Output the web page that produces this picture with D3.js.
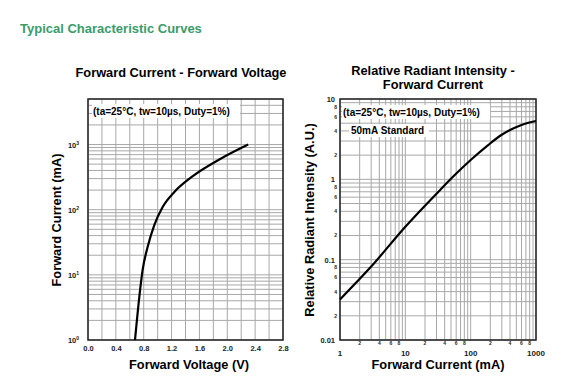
<!DOCTYPE html>
<html>
<head>
<meta charset="utf-8">
<script src="https://cdn.jsdelivr.net/npm/d3@7.9.0/dist/d3.min.js"></script>
<style>
  body { margin: 0; background: #fff; }
  svg text { font-family: "Liberation Sans", Arial, sans-serif; font-weight: bold; }
</style>
</head>
<body>
<svg id="chart" width="582" height="378"></svg>
<script>
// Forward current vs forward voltage (left chart)
const ivVoltage = [0.675, 0.737, 0.785, 0.857, 0.952, 1.072, 1.24, 1.50, 1.885, 2.30];
const ivCurrent = [1, 4.6, 12, 27, 58, 110, 187, 324, 589, 1000];
const vTicks = [0.0, 0.4, 0.8, 1.2, 1.6, 2.0, 2.4, 2.8];
const iDecades = [0, 1, 2, 3];

// Relative radiant intensity vs forward current (right chart)
const riCurrent = [1, 3, 10, 32, 57, 100, 185, 295, 600, 1000];
const riValue = [0.032, 0.082, 0.257, 0.70, 1.13, 1.74, 2.67, 3.56, 4.75, 5.32];
const riMajorY = ["0.01", "0.1", "1", "10"];
const riMinorLabels = [2, 4, 6, 8];
const fcMajorX = ["1", "10", "100", "1000"];

const svg = d3.select("#chart");
const gridColor = "#a8a8a8";

svg.append("text")
  .attr("x", 20).attr("y", 33)
  .attr("fill", "#3a9b6a")
  .attr("font-size", 13)
  .text("Typical Characteristic Curves");

// ---------- left chart ----------
const x1 = d3.scaleLinear().domain([0, 2.8]).range([88, 283]);
const y1 = d3.scaleLog().domain([1, 5000]).range([340, 99]);
const left = svg.append("g");

const vGrid = d3.range(0, 2.81, 0.2);
left.selectAll(".vg").data(vGrid).enter().append("line")
  .attr("x1", (d) => x1(d)).attr("x2", (d) => x1(d))
  .attr("y1", 99).attr("y2", 340)
  .attr("stroke", gridColor).attr("stroke-width", 1);

const hGrid1 = [];
iDecades.forEach((k) => {
  for (let m = 1; m <= 9; m++) {
    const v = m * Math.pow(10, k);
    if (v <= 5000) hGrid1.push(v);
  }
});
left.selectAll(".hg").data(hGrid1).enter().append("line")
  .attr("x1", 88).attr("x2", 283)
  .attr("y1", (d) => y1(d)).attr("y2", (d) => y1(d))
  .attr("stroke", gridColor).attr("stroke-width", 1);

left.append("rect")
  .attr("x", 88).attr("y", 99).attr("width", 195).attr("height", 241)
  .attr("fill", "none").attr("stroke", "#222").attr("stroke-width", 1.5);

// annotation
left.append("rect").attr("x", 92).attr("y", 104).attr("width", 148).attr("height", 14).attr("fill", "#fff");
left.append("text").attr("x", 93).attr("y", 115).attr("font-size", 10).text("(ta=25°C, tw=10µs, Duty=1%)");

// curve
const ivLine = d3.line()
  .x((d) => x1(d[0])).y((d) => y1(d[1]))
  .curve(d3.curveMonotoneX);
left.append("path")
  .datum(d3.zip(ivVoltage, ivCurrent))
  .attr("d", ivLine)
  .attr("fill", "none").attr("stroke", "#000").attr("stroke-width", 2.2);

// x axis labels
const xAxis1 = d3.axisBottom(x1).tickValues(vTicks).tickSize(0).tickFormat(d3.format(".1f"));
left.append("g").attr("transform", "translate(0,343)").call(xAxis1)
  .call((g) => g.select(".domain").remove())
  .selectAll("text").attr("font-size", 7.5).attr("fill", "#222")
  .attr("font-family", "Liberation Sans, Arial, sans-serif");

// y axis labels 10^k
const yl = left.selectAll(".yl").data(iDecades).enter().append("text")
  .attr("x", 79).attr("y", (d) => y1(Math.pow(10, d)) + 3)
  .attr("text-anchor", "end").attr("font-size", 7.5).attr("fill", "#222");
yl.append("tspan").text("10");
yl.append("tspan").attr("dy", -3).attr("font-size", 5).text((d) => d);

left.append("text").attr("x", 181).attr("y", 77).attr("text-anchor", "middle")
  .attr("font-size", 12.8).text("Forward Current - Forward Voltage");
left.append("text").attr("x", 189).attr("y", 369).attr("text-anchor", "middle")
  .attr("font-size", 12.8).text("Forward Voltage (V)");
left.append("text").attr("transform", "translate(61,220) rotate(-90)").attr("text-anchor", "middle")
  .attr("font-size", 12.8).text("Forward Current (mA)");

// ---------- right chart ----------
const x2 = d3.scaleLog().domain([1, 1000]).range([340, 536]);
const y2 = d3.scaleLog().domain([0.01, 10]).range([340, 99]);
const right = svg.append("g");

const xGrid2 = [];
[0, 1, 2].forEach((k) => { for (let m = 1; m <= 9; m++) xGrid2.push(m * Math.pow(10, k)); });
xGrid2.push(1000);
const yGrid2 = [];
[-2, -1, 0].forEach((k) => { for (let m = 1; m <= 9; m++) yGrid2.push(m * Math.pow(10, k)); });
yGrid2.push(10);

right.selectAll(".vg").data(xGrid2).enter().append("line")
  .attr("x1", (d) => x2(d)).attr("x2", (d) => x2(d))
  .attr("y1", 99).attr("y2", 340)
  .attr("stroke", gridColor).attr("stroke-width", 1);
right.selectAll(".hg").data(yGrid2).enter().append("line")
  .attr("x1", 340).attr("x2", 536)
  .attr("y1", (d) => y2(d)).attr("y2", (d) => y2(d))
  .attr("stroke", gridColor).attr("stroke-width", 1);

right.append("rect")
  .attr("x", 340).attr("y", 99).attr("width", 196).attr("height", 241)
  .attr("fill", "none").attr("stroke", "#222").attr("stroke-width", 1.5);

right.append("rect").attr("x", 342).attr("y", 105).attr("width", 148).attr("height", 14).attr("fill", "#fff");
right.append("text").attr("x", 343).attr("y", 116).attr("font-size", 10).text("(ta=25°C, tw=10µs, Duty=1%)");
right.append("rect").attr("x", 349).attr("y", 124).attr("width", 80).attr("height", 13).attr("fill", "#fff");
right.append("text").attr("x", 351).attr("y", 134).attr("font-size", 10).text("50mA Standard");

const riLine = d3.line()
  .x((d) => x2(d[0])).y((d) => y2(d[1]))
  .curve(d3.curveMonotoneX);
right.append("path")
  .datum(d3.zip(riCurrent, riValue))
  .attr("d", riLine)
  .attr("fill", "none").attr("stroke", "#000").attr("stroke-width", 2.2);

// major labels
right.selectAll(".ymaj").data(riMajorY).enter().append("text")
  .attr("x", 335).attr("y", (d) => y2(+d) + 3)
  .attr("text-anchor", "end").attr("font-size", 7.5).attr("fill", "#222").text((d) => d);
right.selectAll(".xmaj").data(fcMajorX).enter().append("text")
  .attr("x", (d) => x2(+d)).attr("y", 355.5)
  .attr("text-anchor", "middle").attr("font-size", 8).attr("fill", "#222").text((d) => d);

// minor labels
const yMinor = [];
[-2, -1, 0].forEach((k) => riMinorLabels.forEach((m) => yMinor.push({ m, v: m * Math.pow(10, k) })));
right.selectAll(".ymin").data(yMinor).enter().append("text")
  .attr("x", 337).attr("y", (d) => y2(d.v) + 2)
  .attr("text-anchor", "end").attr("font-size", 5).attr("fill", "#222").text((d) => d.m);
const xMinor = [];
[0, 1, 2].forEach((k) => riMinorLabels.forEach((m) => xMinor.push({ m, v: m * Math.pow(10, k) })));
right.selectAll(".xmin").data(xMinor).enter().append("text")
  .attr("x", (d) => x2(d.v)).attr("y", 345)
  .attr("text-anchor", "middle").attr("font-size", 5).attr("fill", "#222").text((d) => d.m);

right.append("text").attr("x", 433).attr("y", 75).attr("text-anchor", "middle")
  .attr("font-size", 12.8).text("Relative Radiant Intensity -");
right.append("text").attr("x", 433).attr("y", 89).attr("text-anchor", "middle")
  .attr("font-size", 12.8).text("Forward Current");
right.append("text").attr("x", 438).attr("y", 369).attr("text-anchor", "middle")
  .attr("font-size", 12.8).text("Forward Current (mA)");
right.append("text").attr("transform", "translate(314,220) rotate(-90)").attr("text-anchor", "middle")
  .attr("font-size", 12.8).text("Relative Radiant Intensity (A.U.)");
</script>
</body>
</html>
